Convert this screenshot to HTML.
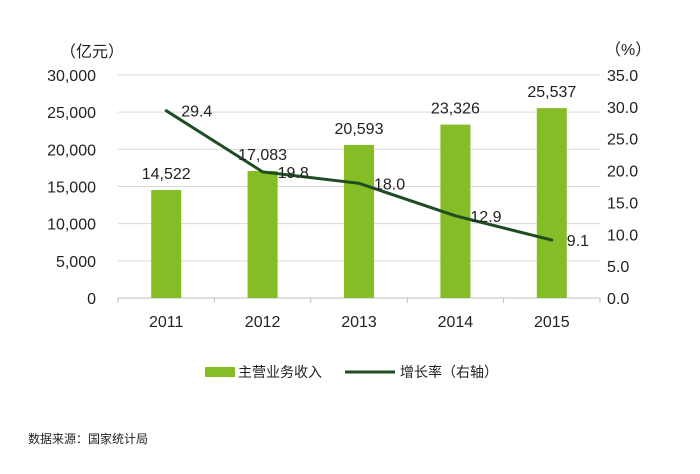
<!DOCTYPE html>
<html><head><meta charset="utf-8"><style>
body{margin:0;background:#fff;}
svg{display:block;font-family:"Liberation Sans","Noto Sans CJK SC",sans-serif;}
</style></head><body>
<svg id="chart" width="700" height="474" viewBox="0 0 700 474">
<g id="grid"></g><g id="bars"></g><g id="line"></g><g id="labels"></g>
<text x="60" y="57" font-size="16" fill="#222">（亿元）</text>
<text x="605" y="55" font-size="16" fill="#222">（%）</text>
<g>
<rect x="205" y="367" width="30" height="10" fill="#86bc25"/>
<text x="238" y="377" font-size="14" fill="#222">主营业务收入</text>
<line x1="345" y1="372" x2="395" y2="372" stroke="#1e4d22" stroke-width="3"/>
<text x="400" y="377" font-size="14" fill="#222">增长率（右轴）</text>
</g>
<text x="28" y="443" font-size="12" fill="#222">数据来源：国家统计局</text>
</svg>
<script>
const categories=["2011","2012","2013","2014","2015"];
const revenue=[14522,17083,20593,23326,25537];
const growth=[29.4,19.8,18.0,12.9,9.1];
const leftTicks=[0,5000,10000,15000,20000,25000,30000];
const rightTicks=[0,5,10,15,20,25,30,35];
const NS="http://www.w3.org/2000/svg";
const L=118,R=600,T=75,B=298;
const yL=v=>B-v/30000*(B-T), yR=v=>B-v/35*(B-T);
const bw=(R-L)/categories.length, xc=i=>L+bw*(i+0.5);
function mk(p,tag,a){const e=document.createElementNS(NS,tag);for(const k in a)e.setAttribute(k,a[k]);document.getElementById(p).appendChild(e);return e;}
const fmt=v=>v.toLocaleString('en-US');
leftTicks.forEach(v=>{
 if(v>0){const g=mk('grid','line',{x1:L,x2:R,y1:yL(v),y2:yL(v),stroke:'#d9d9d9','stroke-width':1});
 
 }
 const t=mk('grid','text',{x:96,y:yL(v)+6,'text-anchor':'end','font-size':16,fill:'#222'});t.textContent=fmt(v);
 
 
});
rightTicks.forEach(v=>{
 const t=mk('grid','text',{x:607,y:yR(v)+6,'font-size':16,fill:'#222'});t.textContent=v.toFixed(1);
 
 
});
const ax=mk('grid','line',{x1:L,x2:R,y1:B,y2:B,stroke:'#bfbfbf','stroke-width':1});


for(let i=0;i<=categories.length;i++){const tk=mk('grid','line',{x1:L+bw*i,x2:L+bw*i,y1:B,y2:B+5,stroke:'#bfbfbf'});
 
 }
categories.forEach((c,i)=>{
 const t=mk('grid','text',{x:xc(i),y:B+29,'text-anchor':'middle','font-size':16,fill:'#222'});t.textContent=c;
 
 
 const b=mk('bars','rect',{x:xc(i)-15,y:yL(revenue[i]),width:30,height:B-yL(revenue[i]),fill:'#86bc25'});
 
 
 const bl=mk('labels','text',{x:xc(i),y:yL(revenue[i])-11,'text-anchor':'middle','font-size':16,fill:'#222'});bl.textContent=fmt(revenue[i]);
 
 
 const ll=mk('labels','text',{x:xc(i)+15,y:yR(growth[i])+6,'font-size':16,fill:'#222'});ll.textContent=growth[i].toFixed(1);
 
 
});
const pl=mk('line','polyline',{points:growth.map((g,i)=>xc(i)+','+yR(g)).join(' '),fill:'none',stroke:'#1e4d22','stroke-width':3,'stroke-linejoin':'round','stroke-linecap':'round'});


</script>
</body></html>
